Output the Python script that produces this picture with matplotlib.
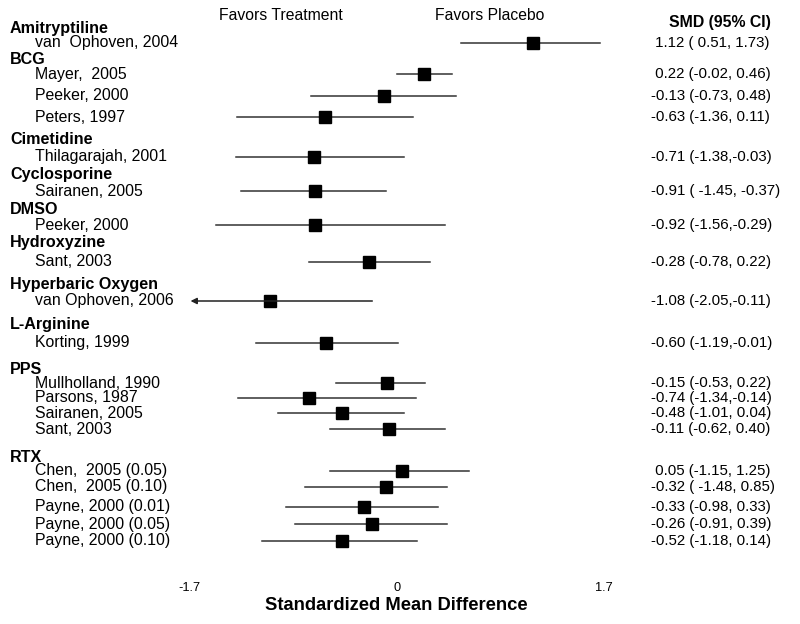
import numpy as np
import matplotlib.pyplot as plt
from matplotlib.transforms import blended_transform_factory

plt.rcParams['font.family'] = ['Liberation Sans', 'DejaVu Sans']

# treatment groups and their studies
treatments = ['Amitryptiline', 'BCG', 'Cimetidine', 'Cyclosporine', 'DMSO',
              'Hydroxyzine', 'Hyperbaric Oxygen', 'L-Arginine', 'PPS', 'RTX']
studies = [
    ['van  Ophoven, 2004'],
    ['Mayer,  2005', 'Peeker, 2000', 'Peters, 1997'],
    ['Thilagarajah, 2001'],
    ['Sairanen, 2005'],
    ['Peeker, 2000'],
    ['Sant, 2003'],
    ['van Ophoven, 2006'],
    ['Korting, 1999'],
    ['Mullholland, 1990', 'Parsons, 1987', 'Sairanen, 2005', 'Sant, 2003'],
    ['Chen,  2005 (0.05)', 'Chen,  2005 (0.10)', 'Payne, 2000 (0.01)',
     'Payne, 2000 (0.05)', 'Payne, 2000 (0.10)'],
]

# plotted estimates and interval ends (as drawn in the figure)
smd = [1.12, 0.22, -0.10, -0.59, -0.68, -0.67, -0.67, -0.23, -1.04, -0.58,
       -0.08, -0.72, -0.45, -0.06, 0.04, -0.09, -0.27, -0.20, -0.45]
lower = [0.53, 0.00, -0.70, -1.31, -1.32, -1.28, -1.48, -0.72, -2.05, -1.15,
         -0.50, -1.30, -0.97, -0.55, -0.55, -0.75, -0.91, -0.83, -1.10]
upper = [1.67, 0.45, 0.49, 0.13, 0.06, -0.09, 0.40, 0.27, -0.20, 0.01,
         0.23, 0.16, 0.06, 0.40, 0.59, 0.41, 0.34, 0.41, 0.17]

ci_labels = [
    ' 1.12 ( 0.51, 1.73)', ' 0.22 (-0.02, 0.46)', '-0.13 (-0.73, 0.48)',
    '-0.63 (-1.36, 0.11)', '-0.71 (-1.38,-0.03)', '-0.91 ( -1.45, -0.37)',
    '-0.92 (-1.56,-0.29)', '-0.28 (-0.78, 0.22)', '-1.08 (-2.05,-0.11)',
    '-0.60 (-1.19,-0.01)', '-0.15 (-0.53, 0.22)', '-0.74 (-1.34,-0.14)',
    '-0.48 (-1.01, 0.04)', '-0.11 (-0.62, 0.40)', ' 0.05 (-1.15, 1.25)',
    '-0.32 ( -1.48, 0.85)', '-0.33 (-0.98, 0.33)', '-0.26 (-0.91, 0.39)',
    '-0.52 (-1.18, 0.14)',
]

xticks = [-1.7, 0, 1.7]

# layout: vertical positions (pixels from top) of header and study rows
header_y = [28, 59, 139, 174, 210, 243, 284, 324, 369, 457]
study_y = [[43], [74, 96, 117], [157], [191], [225], [262], [301], [343],
           [383, 398, 413, 429], [471, 487, 507, 524, 541]]


def forest_plot():
    fig = plt.figure(figsize=(8, 6.24), dpi=100)
    ax = fig.add_axes([189.3 / 800, 49 / 624, 414.8 / 800, 575 / 624])
    xmin, xmax = -1.7, 1.7
    ax.set_xlim(xmin, xmax)
    ax.set_ylim(575, 0)
    for s in ax.spines.values():
        s.set_visible(False)
    ax.set_yticks([])
    ax.set_xticks(xticks)
    ax.set_xticklabels(['-1.7', '0', '1.7'], fontsize=9.2)
    ax.tick_params(axis='x', length=0, pad=5)
    ax.set_xlabel('Standardized Mean Difference', fontsize=13.2,
                  fontweight='bold', labelpad=2)

    tr = blended_transform_factory(fig.transFigure, ax.transData)

    k = 0
    for g, name in enumerate(treatments):
        ax.text(10 / 800, header_y[g], name, transform=tr, fontsize=11.6,
                fontweight='bold', va='center', ha='left', clip_on=False)
        for j, study in enumerate(studies[g]):
            y = study_y[g][j]
            ax.text(35 / 800, y, study, transform=tr, fontsize=11.4,
                    va='center', ha='left', clip_on=False)
            lo = lower[k]
            if lo < xmin:
                ax.annotate('', xy=(xmin + 0.01, y), xytext=(upper[k], y),
                            arrowprops=dict(arrowstyle='-|>', color='#222222',
                                            lw=1.1, mutation_scale=9,
                                            shrinkA=0, shrinkB=0))
            else:
                ax.plot([lo, upper[k]], [y, y], color='#333333', lw=1.1)
            ax.plot(smd[k], y, 's', ms=9.2, color='black')
            ax.text(651 / 800, y, ci_labels[k], transform=tr, fontsize=10.8,
                    va='center', ha='left', clip_on=False)
            k += 1

    ax.text(720 / 800, 23, 'SMD (95% CI)', transform=tr, fontsize=11.4,
            fontweight='bold', va='center', ha='center', clip_on=False)
    ax.text(281 / 800, 15, 'Favors Treatment', transform=tr, fontsize=11.3,
            va='center', ha='center', clip_on=False)
    ax.text(490 / 800, 16, 'Favors Placebo', transform=tr, fontsize=11.3,
            va='center', ha='center', clip_on=False)

    fig.savefig('out.png', dpi=100)


def main():
    forest_plot()


if __name__ == "__main__":
    main()
